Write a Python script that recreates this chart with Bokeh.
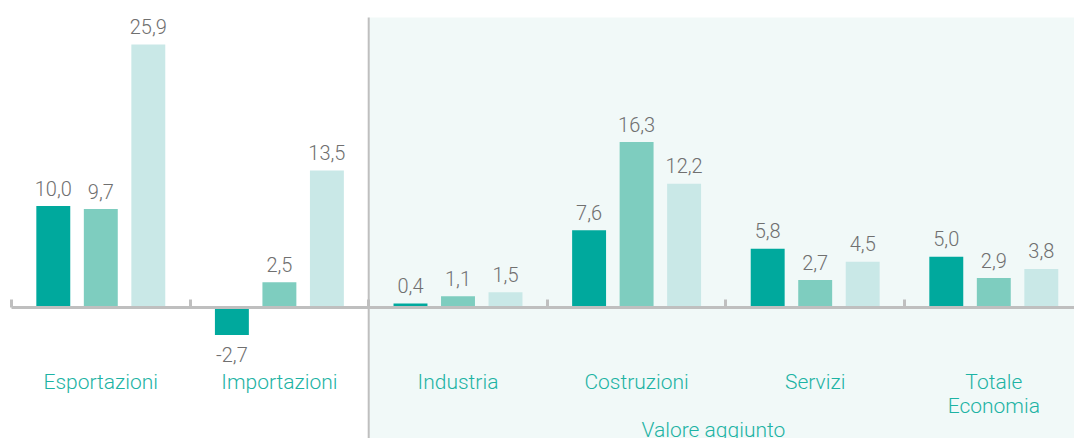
import numpy as np
from bokeh.plotting import figure
from bokeh.models import LinearAxis, FixedTicker, Range1d, ColumnDataSource
from bokeh.core.properties import value
from bokeh.embed import file_html
from bokeh.resources import INLINE

categories = ["Esportazioni", "Importazioni", "Industria", "Costruzioni", "Servizi", "Totale\nEconomia"]
series_a = [10.0, -2.7, 0.4, 7.6, 5.8, 5.0]
series_b = [9.7, 2.5, 1.1, 16.3, 2.7, 2.9]
series_c = [25.9, 13.5, 1.5, 12.2, 4.5, 3.8]
group_label = "Valore aggiunto"

COL_A = "#00a99d"
COL_B = "#7ecdbf"
COL_C = "#c9e8e7"
BG = "#f1f9f8"
GRID_GRAY = "#bfbfbf"
CAT_COL = "#1db3a4"
VAL_COL = "#707070"
FONT = "'Roboto Light', Roboto"

PX = 10.15  # pixels per unit
ZERO = 307  # pixel row of zero line

p = figure(width=1074, height=438, output_backend="svg", toolbar_location=None,
           x_range=Range1d(-11 / 178.6, 1063 / 178.6),
           y_range=Range1d(-(438 - ZERO) / PX, ZERO / PX),
           x_axis_location=None, y_axis_location=None,
           min_border=0, min_border_left=0, min_border_right=0,
           min_border_top=0, min_border_bottom=0)
p.outline_line_color = None
p.xgrid.visible = False
p.ygrid.visible = False
p.background_fill_color = "white"
p.border_fill_color = "white"

# shaded value-added region
p.quad(left=[2], right=[7], bottom=[-20], top=[(ZERO - 17) / PX], fill_color=BG, line_color=None)
p.segment(x0=[2], y0=[-20], x1=[2], y1=[(ZERO - 17) / PX], line_color=GRID_GRAY, line_width=2)

idx = np.arange(len(categories)) + 0.5
off = 0.266
w = 0.19
for vals, dx, col in [(series_a, -off, COL_A), (series_b, 0.0, COL_B), (series_c, off, COL_C)]:
    v = np.array(vals)
    src = ColumnDataSource(dict(x=idx + dx, top=v))
    p.vbar(x="x", top="top", bottom=0, width=w, source=src, fill_color=col, line_color=None)
    ly = np.where(v >= 0, v + 18 / PX, v - 20 / PX)
    lbl = [f"{x:.1f}".replace(".", ",") for x in v]
    p.text(x=idx + dx, y=ly, text=lbl, text_align="center", text_baseline="alphabetic",
           text_font=value(FONT), text_font_size="20px", text_color=VAL_COL)

# x axis at zero with boundary ticks
ax = LinearAxis(fixed_location=0, ticker=FixedTicker(ticks=list(range(len(categories) + 1))),
                bounds=(0, len(categories)))
ax.major_label_text_font_size = "0px"
ax.major_label_text_color = None
ax.major_tick_in = 8
ax.major_tick_out = 0
ax.minor_tick_line_color = None
ax.axis_line_color = GRID_GRAY
ax.axis_line_width = 3
ax.major_tick_line_color = GRID_GRAY
ax.major_tick_line_width = 3
p.add_layout(ax, "below")

p.text(x=idx, y=[(ZERO - 369) / PX] * len(categories), text=categories, text_align="center",
       text_baseline="top", text_font=value(FONT), text_font_size="21px",
       text_color=CAT_COL, text_line_height=1.0)
p.text(x=[3.93], y=[(ZERO - 429) / PX], text=[group_label], text_align="center",
       text_baseline="alphabetic", text_font=value(FONT), text_font_size="21px",
       text_color=CAT_COL)

open("out.html", "w").write(file_html(p, INLINE))
